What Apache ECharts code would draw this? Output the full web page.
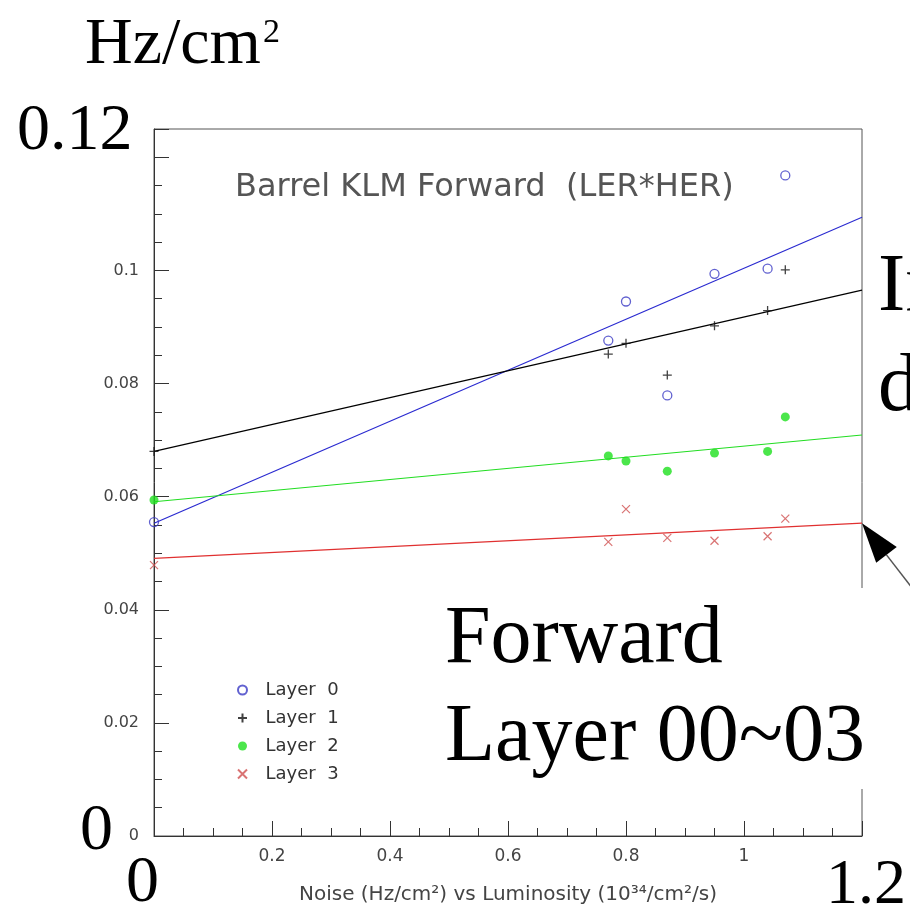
<!DOCTYPE html>
<html>
<head>
<meta charset="utf-8">
<script src="https://cdn.jsdelivr.net/npm/echarts@6/dist/echarts.min.js"></script>
<style>html,body{margin:0;padding:0;background:#fff;}#c{width:910px;height:915px;}</style>
</head>
<body>
<div id="c"></div>
<script>
// ---- data ----
const luminosity = [0, 0.77, 0.80, 0.87, 0.95, 1.04, 1.07];
const layer0 = [0.0555, 0.0876, 0.0945, 0.0779, 0.0994, 0.1003, 0.1168];
const layer1 = [0.0680, 0.0852, 0.0871, 0.0815, 0.0902, 0.0929, 0.1001];
const layer2 = [0.0594, 0.0672, 0.0663, 0.0645, 0.0677, 0.0680, 0.0741];
const layer3 = [0.0479, 0.0520, 0.0578, 0.0527, 0.0522, 0.0530, 0.0561];
const fitX = [0, 1.2];
const fit0 = [0.0553, 0.1094];
const fit1 = [0.0680, 0.0965];
const fit2 = [0.0591, 0.0709];
const fit3 = [0.0491, 0.0553];
const layerNames = ['Layer 0', 'Layer 1', 'Layer 2', 'Layer 3'];
const xTicks = ['', '0.2', '0.4', '0.6', '0.8', '1', ''];
const yTicks = ['0', '0.02', '0.04', '0.06', '0.08', '0.1', ''];

const pair = (xs, ys) => xs.map((x, i) => [x, ys[i]]);

const chart = echarts.init(document.getElementById('c'), null, {renderer: 'canvas'});
const sans = 'DejaVu Sans';
const serif = 'Liberation Serif';

const layerStyles = [
  {symbol: 'circle', size: 9, itemStyle: {color: 'rgba(0,0,0,0)', borderColor: '#3a3ac4', borderWidth: 1.3}},
  {symbol: 'path://M0,5L10,5M5,0L5,10', size: 9, itemStyle: {color: 'rgba(0,0,0,0)', borderColor: '#111', borderWidth: 1.3}},
  {symbol: 'circle', size: 9, itemStyle: {color: '#1ee01e', borderWidth: 0}},
  {symbol: 'path://M0,0L10,10M10,0L0,10', size: 8, itemStyle: {color: 'rgba(0,0,0,0)', borderColor: '#d05050', borderWidth: 1.2}}
];
const layerData = [layer0, layer1, layer2, layer3];
const fits = [fit0, fit1, fit2, fit3];
const fitColors = ['#2a2ad0', '#000000', '#22dd22', '#e03030'];

const series = [];
fits.forEach((f, i) => {
  series.push({
    name: 'fit' + i, type: 'line', data: pair(fitX, f), showSymbol: false, symbol: 'none',
    lineStyle: {color: fitColors[i], width: 1.2}, silent: true, z: 2
  });
});
layerData.forEach((d, i) => {
  series.push({
    name: layerNames[i], type: 'scatter', data: pair(luminosity, d),
    symbol: layerStyles[i].symbol, symbolSize: layerStyles[i].size,
    itemStyle: layerStyles[i].itemStyle, z: 3
  });
});

const fmt = (v, labels) => {
  const r = Math.round(v * 1000) / 1000;
  const idx = labels === xTicks ? Math.round(r / 0.2) : Math.round(r / 0.02);
  return labels[idx] !== undefined ? labels[idx] : '';
};

chart.setOption({
  animation: false,
  backgroundColor: '#fff',
  grid: {left: 154, top: 129, width: 708, height: 707, show: true, borderColor: '#555', borderWidth: 1, backgroundColor: 'transparent'},
  xAxis: {
    type: 'value', min: 0, max: 1.2, interval: 0.2,
    name: 'Noise (Hz/cm²) vs Luminosity (10³⁴/cm²/s)',
    nameLocation: 'middle', nameGap: 49,
    nameTextStyle: {fontFamily: sans, fontSize: 20, color: '#444'},
    axisLine: {show: true, onZero: false, lineStyle: {color: '#333', width: 1}},
    axisTick: {show: true, inside: true, length: 15, lineStyle: {color: '#333'}},
    minorTick: {show: true, splitNumber: 4, length: 8, lineStyle: {color: '#333'}},
    axisLabel: {fontFamily: sans, fontSize: 17, color: '#444', margin: 12, formatter: v => fmt(v, xTicks)},
    splitLine: {show: false}
  },
  yAxis: {
    type: 'value', min: 0, max: 0.125, interval: 0.02,
    axisLine: {show: true, onZero: false, lineStyle: {color: '#333', width: 1}},
    axisTick: {show: true, inside: true, length: 15, lineStyle: {color: '#333'}},
    minorTick: {show: true, splitNumber: 4, length: 8, lineStyle: {color: '#333'}},
    axisLabel: {fontFamily: sans, fontSize: 16, color: '#444', margin: 15, formatter: v => fmt(v, yTicks)},
    splitLine: {show: false}
  },
  legend: {
    data: layerNames, orient: 'vertical', left: 232, top: 676,
    itemWidth: 36, itemHeight: 9, itemGap: 10,
    textStyle: {fontFamily: sans, fontSize: 18, color: '#333'},
    formatter: n => n.replace(' ', '  '),
    selectedMode: false
  },
  series: series
});

// ---- overlay annotations (slide text) ----
const tip = chart.convertToPixel({gridIndex: 0}, [fitX[1], fit3[1]]);
const dx = 0.612, dy = 0.791, hl = 40, hw = 13;
const bx = tip[0] + hl * dx, by = tip[1] + hl * dy;
const nx = -dy, ny = dx;

const txt = (text, x, y, size) => ({
  type: 'text', x: x, y: y, z: 100,
  style: {text: text, fontFamily: serif, fontSize: size, fill: '#000', verticalAlign: 'middle', align: 'left'}
});

chart.setOption({
  graphic: [
    {type: 'rect', z: 90, shape: {x: 440, y: 588, width: 430, height: 201}, style: {fill: '#fff'}},
    {type: 'text', x: 235, y: 188, z: 100, style: {text: 'Barrel KLM Forward  (LER*HER)', fontFamily: sans, fontSize: 32, fill: '#555', verticalAlign: 'middle'}},
    txt('Hz/cm', 85, 46, 66),
    txt('2', 263, 33, 34),
    txt('0.12', 17, 132, 66),
    txt('0', 80, 832, 66),
    txt('0', 126, 884, 66),
    txt('1.2', 826, 886, 64),
    txt('Forward', 445, 640, 82),
    txt('Layer 00~03', 445, 738, 82),
    txt('In', 878, 288, 82),
    txt('de', 878, 388, 82),
    {type: 'line', z: 100, shape: {x1: bx, y1: by, x2: tip[0] + 140 * dx, y2: tip[1] + 140 * dy}, style: {stroke: '#555', lineWidth: 1.5}},
    {type: 'polygon', z: 101, shape: {points: [[tip[0], tip[1]], [bx + hw * nx, by + hw * ny], [bx - hw * nx, by - hw * ny]]}, style: {fill: '#000'}}
  ]
});
</script>
</body>
</html>
